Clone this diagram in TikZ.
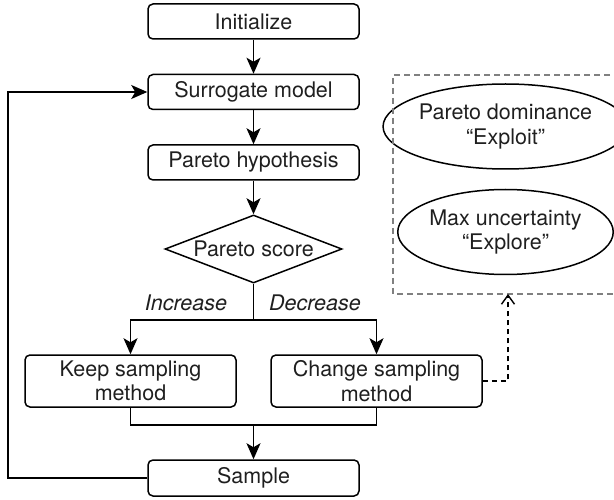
\documentclass[tikz,border=0pt]{standalone}
\usepackage{fontspec}
\setmainfont{TeX Gyre Heros}
\usetikzlibrary{shapes.geometric,arrows.meta}
\begin{document}
\begin{tikzpicture}[x=1pt,y=-1pt,
  every node/.style={font=\fontsize{21.5}{24.5}\selectfont, text=black!88},
  procbox/.style={draw, line width=1.5pt, rounded corners=5pt, minimum width=211pt, inner sep=0pt, align=center},
  decbox/.style={draw, line width=1.5pt, diamond, aspect=2.6, minimum width=177pt, minimum height=68pt, inner sep=0pt},
  ovalbox/.style={draw, line width=1.5pt, ellipse, minimum width=211pt, minimum height=85pt, inner sep=0pt, align=center},
  flow/.style={line width=1.5pt, -{Stealth[length=16pt,width=14pt,inset=4pt]}},
  plain/.style={line width=1.5pt},
  dashlink/.style={line width=1.4pt, dash pattern=on 5pt off 4pt, -{Straight Barb[length=9pt,width=13pt]}},
  groupbox/.style={line width=1.2pt, gray, dash pattern=on 6pt off 4pt},
  lbl/.style={font=\fontsize{21.5}{24.5}\selectfont\itshape}
]
\useasboundingbox (0,0) rectangle (614,500);

\node[procbox, minimum height=35pt] (init) at (253.5,21.5) {Initialize};
\node[procbox, minimum height=35pt] (surr) at (253.5,92) {Surrogate model};
\node[procbox, minimum height=35pt] (hyp) at (253.5,162.5) {Pareto hypothesis};
\node[decbox] (score) at (253.5,249) {Pareto score};
\node[procbox, minimum height=52pt] (keep) at (130.5,381) {Keep sampling\\method};
\node[procbox, minimum height=52pt] (change) at (376.5,381) {Change sampling\\method};
\node[procbox, minimum height=36pt] (sample) at (253.5,478) {Sample};

\node[ovalbox] (exploit) at (505.5,126.5) {Pareto dominance\\“Exploit”};
\node[ovalbox] (explore) at (505.5,232) {Max uncertainty\\“Explore”};

\draw[groupbox] (620,75) -- (393,75) -- (393,294) -- (620,294);
\coordinate (grp) at (508,294);

\draw[flow] (init) -- (surr);
\draw[flow] (surr) -- (hyp);
\draw[flow] (hyp) -- (score);

\coordinate (split) at (253.5,320);
\draw[plain] (score.south) -- (split);
\draw[flow] (split) -| (keep.north);
\draw[flow] (split) -| (change.north);

\node[lbl] (inc) at (186,303) {Increase};
\node[lbl] (dec) at (315,303) {Decrease};

\coordinate (merge) at (253.5,425);
\draw[plain] (keep.south) |- (merge);
\draw[plain] (change.south) |- (merge);
\draw[flow] (merge) -- (sample);

\coordinate (loop) at (8,478);
\draw[flow] (sample.west) -- (loop) |- (surr.west);

\draw[dashlink] (change.east) -| (grp);
\end{tikzpicture}
\end{document}
